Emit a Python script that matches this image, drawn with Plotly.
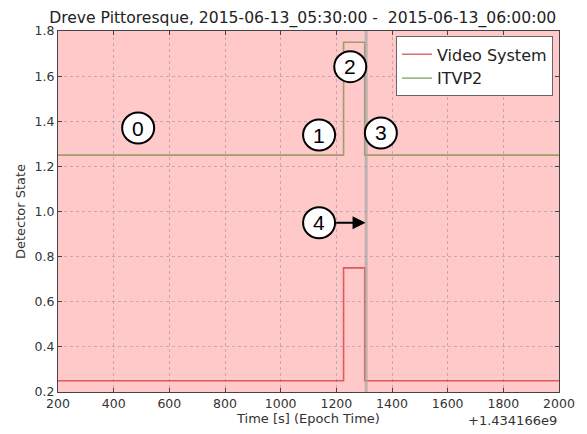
import plotly.graph_objects as go

# Data (time offset in seconds relative to 1.434166e9)
time_points = [200, 1226, 1302, 2000]
video_system = [0.25, 0.75, 0.25, 0.25]
itvp2 = [1.25, 1.75, 1.25, 1.25]
event_time = 1307
x_ticks = [200, 400, 600, 800, 1000, 1200, 1400, 1600, 1800, 2000]
y_ticks = [0.2, 0.4, 0.6, 0.8, 1.0, 1.2, 1.4, 1.6, 1.8]
title_text = "Dreve Pittoresque, 2015-06-13_05:30:00 -  2015-06-13_06:00:00"
markers = [("0", 488, 1.37), ("1", 1138, 1.339), ("2", 1250, 1.642),
           ("3", 1360, 1.348), ("4", 1138, 0.95)]

FONT = "DejaVu Sans"

fig = go.Figure()
fig.add_trace(go.Scatter(x=time_points, y=video_system, mode="lines", line_shape="hv",
                         name="Video System", line=dict(color="rgba(205,30,40,0.65)", width=1.6)))
fig.add_trace(go.Scatter(x=time_points, y=itvp2, mode="lines", line_shape="hv",
                         name="ITVP2", line=dict(color="rgba(60,115,15,0.5)", width=1.6)))

fig.add_vline(x=event_time, line=dict(color="rgba(165,165,165,0.7)", width=3))

for label, mx, my in markers:
    fig.add_shape(type="circle", xref="x", yref="y", xsizemode="pixel", ysizemode="pixel",
                  xanchor=mx, yanchor=my, x0=-16, x1=16, y0=-15.5, y1=15.5,
                  line=dict(color="black", width=2), fillcolor="white", layer="above")
    fig.add_annotation(x=mx, y=my, xref="x", yref="y", text=label, showarrow=False,
                       font=dict(family="Liberation Sans", size=21, color="black"))

# arrow from circle 4 to the event line
fig.add_annotation(x=event_time - 2, y=0.95, ax=1194, ay=0.95, xref="x", yref="y",
                   axref="x", ayref="y", text="", showarrow=True, arrowhead=2,
                   arrowsize=1.3, arrowwidth=2, arrowcolor="black")

fig.add_annotation(x=1, y=-0.078, xref="paper", yref="paper", text="+1.434166e9",
                   showarrow=False, xanchor="right", yanchor="middle",
                   font=dict(family=FONT, size=13, color="#333"))

axis_common = dict(showline=True, linecolor="#444", linewidth=1, mirror="ticks",
                   ticks="inside", ticklen=4, tickcolor="#444",
                   showgrid=True, gridcolor="rgba(150,150,150,0.6)", griddash="dot",
                   gridwidth=1, zeroline=False,
                   tickfont=dict(family=FONT, size=12.5, color="#333"))

fig.update_xaxes(range=[200, 2000], tickvals=x_ticks, ticktext=[str(v) for v in x_ticks],
                 title=dict(text="Time [s] (Epoch Time)", font=dict(family=FONT, size=13, color="#333"),
                            standoff=2), **axis_common)
fig.update_yaxes(range=[0.2, 1.8], tickvals=y_ticks, ticktext=[f"{v:.1f}" for v in y_ticks],
                 title=dict(text="Detector State", font=dict(family=FONT, size=13, color="#333"),
                            standoff=6), **axis_common)

# page body adds an 8px offset, so the figure is sized/margined to compensate
fig.update_layout(
    width=579, height=426,
    margin=dict(l=46, r=21, t=23, b=42),
    paper_bgcolor="white", plot_bgcolor="#ffc9c9",
    title=dict(text=title_text, x=0.509, xanchor="center", y=1 - 10 / 426, yanchor="middle",
               font=dict(family=FONT, size=15.6, color="#222")),
    legend=dict(x=0.988, y=0.985, xanchor="right", yanchor="top", bgcolor="white",
                bordercolor="#666", borderwidth=1,
                font=dict(family=FONT, size=16, color="#222")),
    showlegend=True,
)

fig.write_html("out.html")
